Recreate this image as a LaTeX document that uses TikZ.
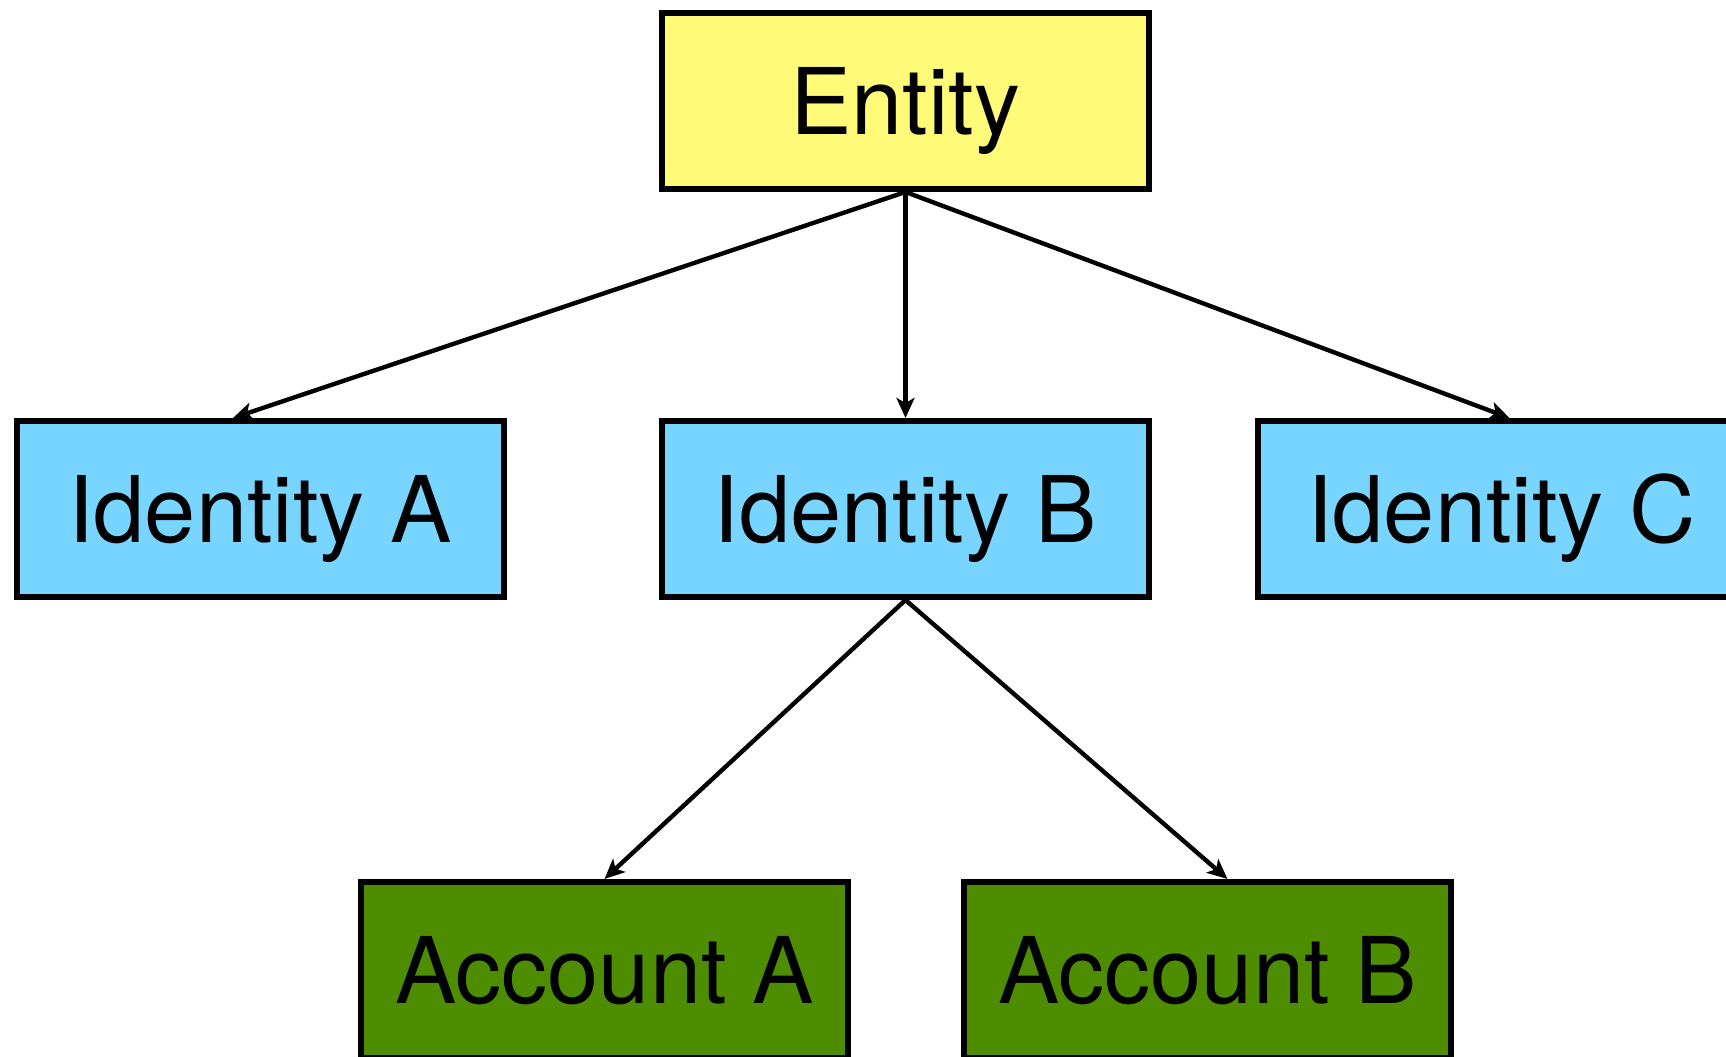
\documentclass[tikz,border=0pt]{standalone}
\usepackage{fontspec}
\usetikzlibrary{arrows.meta}
\setmainfont{TeX Gyre Heros}
\definecolor{entityyellow}{RGB}{255,250,120}
\definecolor{identityblue}{RGB}{120,213,255}
\definecolor{accountgreen}{RGB}{78,140,0}

\begin{document}
\begin{tikzpicture}[x=0.5pt, y=0.5pt, >={Stealth[length=10pt,width=9pt,inset=2.5pt]},
    box/.style={draw=black, line width=3pt, minimum width=243.5pt, minimum height=88pt,
        inner sep=0pt, text height=33.8pt, text depth=0pt, font=\fontsize{46}{56}\selectfont},
    link/.style={->, line width=2.2pt}]
\clip (0,0) rectangle (1726,1056);
\node[box, fill=entityyellow] (entity) at (905.5,955) {Entity};
\node[box, fill=identityblue] (idA) at (260,547) {Identity A};
\node[box, fill=identityblue] (idB) at (905.5,547) {Identity B};
\node[box, fill=identityblue] (idC) at (1501.5,547) {Identity C};
\node[box, fill=accountgreen] (accA) at (604.5,86) {Account A};
\node[box, fill=accountgreen] (accB) at (1207.5,86) {Account B};
\draw[link] (entity.south) -- ([xshift=-13.5pt]idA.north);
\draw[link] (entity.south) -- (idB.north);
\draw[link] (entity.south) -- ([xshift=4pt]idC.north);
\draw[link] (idB.south) -- (accA.north);
\draw[link] (idB.south) -- ([xshift=10pt]accB.north);
\end{tikzpicture}
\end{document}
